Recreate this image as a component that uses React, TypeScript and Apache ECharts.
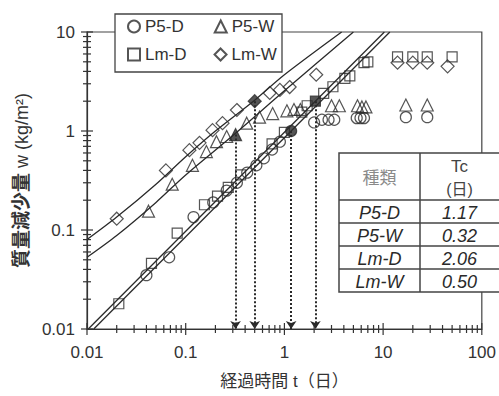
import React, { useEffect, useRef } from "react";
import * as echarts from "echarts";

// ---- axis ticks ----
const X_TICKS = [0.01, 0.1, 1, 10, 100];
const Y_TICKS = [0.01, 0.1, 1, 10];

// ---- series names ----
const SERIES_NAMES = ["P5-D", "P5-W", "Lm-D", "Lm-W"];

// ---- measured points (t: days, w: kg/m2) ----
const P5_D_T = [0.04, 0.068, 0.12, 0.19, 0.26, 0.33, 0.42, 0.52, 0.62, 0.75, 0.9, 2.0, 2.4, 2.8, 3.2, 5.4, 5.9, 6.4, 17, 28];
const P5_D_W = [0.035, 0.053, 0.135, 0.19, 0.25, 0.3, 0.38, 0.45, 0.53, 0.65, 0.78, 1.22, 1.3, 1.3, 1.3, 1.35, 1.35, 1.35, 1.38, 1.38];

const P5_W_T = [0.042, 0.073, 0.117, 0.162, 0.205, 0.26, 0.415, 0.56, 0.76, 1.06, 1.25, 1.45, 3.0, 3.6, 5.5, 6.1, 6.7, 17, 28];
const P5_W_W = [0.155, 0.29, 0.45, 0.62, 0.78, 0.88, 1.2, 1.38, 1.5, 1.6, 1.65, 1.65, 1.8, 1.8, 1.8, 1.75, 1.75, 1.83, 1.83];

const LM_D_T = [0.021, 0.045, 0.082, 0.155, 0.21, 0.27, 0.36, 0.75, 1.0, 1.5, 1.7, 2.5, 3.1, 4.1, 4.6, 6.4, 7.0, 14, 20, 28, 50];
const LM_D_W = [0.018, 0.046, 0.093, 0.18, 0.22, 0.27, 0.36, 0.74, 0.97, 1.55, 1.8, 2.4, 2.8, 3.4, 3.6, 4.9, 5.0, 5.6, 5.6, 5.6, 5.6];

const LM_W_T = [0.02, 0.063, 0.109, 0.138, 0.187, 0.236, 0.33, 0.71, 0.9, 1.13, 2.1, 14, 20, 28, 45];
const LM_W_W = [0.13, 0.4, 0.64, 0.76, 1.02, 1.2, 1.63, 2.42, 2.6, 2.78, 3.7, 4.9, 4.9, 4.9, 4.5];

// ---- critical points (filled markers) and Tc table ----
const TC_VALUES = [1.17, 0.32, 2.06, 0.5];
const TC_LABELS = ["1.17", "0.32", "2.06", "0.50"];
const CRIT_W = [1.0, 0.92, 2.0, 2.0];

// ---- fitted curves ----
const FIT_P5D_T = [0.0117, 11.7];
const FIT_P5D_W = [0.01, 10];
const FIT_LMD_T = [0.0103, 10.3];
const FIT_LMD_W = [0.01, 10];
const FIT_P5W_T = [0.01, 0.02, 0.05, 0.1, 0.32, 1, 5];
const FIT_P5W_W = [0.053, 0.088, 0.19, 0.36, 0.95, 2.55, 10];
const FIT_LMW_T = [0.01, 0.02, 0.05, 0.1, 0.2, 0.5, 1, 3.8];
const FIT_LMW_W = [0.08, 0.135, 0.29, 0.55, 1.0, 2.05, 3.7, 10];

const FONT = "'Liberation Sans', Arial, 'Noto Sans CJK JP', sans-serif";
const INK = "#2a2a2a";

const zip = (a: number[], b: number[]) => a.map((v, i) => [v, b[i]]);

function nearestLabel(v: number, ticks: number[]) {
  let best = ticks[0];
  for (const t of ticks) {
    if (Math.abs(Math.log10(t) - Math.log10(v)) < Math.abs(Math.log10(best) - Math.log10(v))) best = t;
  }
  return String(best);
}

function minorValues(ticks: number[]) {
  const out: number[][] = [];
  for (let i = 0; i < ticks.length; i++) {
    out.push([ticks[i], 1]);
    if (i < ticks.length - 1) {
      for (let m = 2; m <= 9; m++) out.push([ticks[i] * m, 0]);
    }
  }
  return out;
}

export default function App() {
  const ref = useRef<HTMLDivElement>(null);

  useEffect(() => {
    if (!ref.current) return;
    const chart = echarts.init(ref.current, undefined, { renderer: "svg" });

    const scatterBase = (name: string, symbol: string, size: number, t: number[], w: number[], idx: number) => ({
      name,
      type: "scatter",
      symbol,
      symbolSize: size,
      z: 4,
      itemStyle: { color: "rgba(255,255,255,0)", borderColor: INK, borderWidth: 1.2 },
      data: [
        ...zip(t, w),
        { value: [TC_VALUES[idx], CRIT_W[idx]], itemStyle: { color: INK, borderColor: INK } },
      ],
      markLine: {
        silent: true,
        symbol: ["none", "arrow"],
        symbolSize: 8,
        label: { show: false },
        lineStyle: { type: "dotted", color: INK, width: 2 },
        data: [[{ coord: [TC_VALUES[idx], CRIT_W[idx]] }, { coord: [TC_VALUES[idx], 0.01] }]],
      },
    });

    const fitLine = (t: number[], w: number[]) => ({
      type: "line",
      data: zip(t, w),
      showSymbol: false,
      symbol: "none",
      smooth: 0.3,
      silent: true,
      z: 3,
      lineStyle: { color: INK, width: 1.3 },
    });

    const xTicks = minorValues(X_TICKS).map(([v, major]) => [v, 0.01, major]);
    const yTicks = minorValues(Y_TICKS).map(([v, major]) => [0.01, v, major]);

    const tableLeft = 339, tableTop = 153, tableRight = 499, colX = 420;
    const headerBottom = 200, rowH = 23;
    const tableChildren: any[] = [
      { type: "rect", shape: { x: tableLeft, y: tableTop, width: tableRight - tableLeft + 2, height: headerBottom - tableTop + rowH * 4 }, style: { fill: "#fff", stroke: "#444", lineWidth: 1.5 } },
      { type: "line", shape: { x1: colX, y1: tableTop, x2: colX, y2: headerBottom + rowH * 4 }, style: { stroke: "#444", lineWidth: 1.5 } },
      { type: "text", style: { text: "種類", x: (tableLeft + colX) / 2, y: 178, align: "center", verticalAlign: "middle", fontSize: 17, fill: "#8a8a8a", fontFamily: FONT } },
      { type: "text", style: { text: "Tc", x: (colX + tableRight) / 2, y: 166, align: "center", verticalAlign: "middle", fontSize: 17, fill: "#444", fontFamily: FONT } },
      { type: "text", style: { text: "(日)", x: (colX + tableRight) / 2, y: 189, align: "center", verticalAlign: "middle", fontSize: 16, fill: "#444", fontFamily: FONT } },
    ];
    for (let i = 0; i < 4; i++) {
      const y0 = headerBottom + rowH * i;
      tableChildren.push({ type: "line", shape: { x1: tableLeft, y1: y0, x2: tableRight, y2: y0 }, style: { stroke: "#444", lineWidth: 1.5 } });
      tableChildren.push({ type: "text", style: { text: SERIES_NAMES[i], x: (tableLeft + colX) / 2, y: y0 + rowH / 2 + 1, align: "center", verticalAlign: "middle", fontSize: 18, fontStyle: "italic", fill: INK, fontFamily: FONT } });
      tableChildren.push({ type: "text", style: { text: TC_LABELS[i], x: (colX + tableRight) / 2, y: y0 + rowH / 2 + 1, align: "center", verticalAlign: "middle", fontSize: 18, fontStyle: "italic", fill: INK, fontFamily: FONT } });
    }

    const legendCommon = {
      left: 127,
      itemWidth: 12,
      itemHeight: 12,
      padding: 0,
      selectedMode: false,
      z: 20,
      textStyle: { fontSize: 17, color: "#333", fontFamily: FONT, padding: [0, 0, 0, 0] },
    };

    chart.setOption({
      animation: false,
      backgroundColor: "#fff",
      grid: { left: 87, right: 17, top: 32, bottom: 67, show: true, borderColor: "#444", borderWidth: 1.2, backgroundColor: "transparent" },
      legend: [
        { ...legendCommon, top: 18, itemGap: 30, data: ["P5-D", "P5-W"] },
        { ...legendCommon, top: 46, itemGap: 27, data: ["Lm-D", "Lm-W"] },
      ],
      xAxis: {
        type: "log",
        logBase: 10,
        min: 0.01,
        max: 100,
        name: "経過時間 t（日）",
        nameLocation: "middle",
        nameGap: 44,
        nameTextStyle: { fontSize: 17, color: "#333", fontFamily: FONT },
        axisLine: { lineStyle: { color: "#333", width: 1.2 } },
        axisTick: { show: false },
        splitLine: { show: false },
        axisLabel: { fontSize: 17, color: "#333", fontFamily: FONT, margin: 15, formatter: (v: number) => nearestLabel(v, X_TICKS) },
      },
      yAxis: {
        type: "log",
        logBase: 10,
        min: 0.01,
        max: 10,
        name: "{b|質量減少量} w (kg/m²)",
        nameLocation: "middle",
        nameRotate: 90,
        nameGap: 56,
        nameTextStyle: { fontSize: 18, color: "#333", fontFamily: FONT, rich: { b: { fontSize: 19, fontWeight: "bold", color: "#333", fontFamily: FONT } } },
        axisLine: { lineStyle: { color: "#333", width: 1.2 } },
        axisTick: { show: false },
        splitLine: { show: false },
        axisLabel: { fontSize: 17, color: "#333", fontFamily: FONT, margin: 12, formatter: (v: number) => nearestLabel(v, Y_TICKS) },
      },
      graphic: [
        { type: "rect", z: 10, shape: { x: 115, y: 14, width: 167, height: 58 }, style: { fill: "#fff", stroke: "#444", lineWidth: 1.3 } },
        { type: "group", z: 10, children: tableChildren },
      ],
      series: [
        fitLine(FIT_P5D_T, FIT_P5D_W),
        fitLine(FIT_LMD_T, FIT_LMD_W),
        fitLine(FIT_P5W_T, FIT_P5W_W),
        fitLine(FIT_LMW_T, FIT_LMW_W),
        scatterBase("P5-D", "circle", 11, P5_D_T, P5_D_W, 0),
        scatterBase("P5-W", "triangle", 12, P5_W_T, P5_W_W, 1),
        scatterBase("Lm-D", "rect", 10, LM_D_T, LM_D_W, 2),
        scatterBase("Lm-W", "diamond", 13, LM_W_T, LM_W_W, 3),
        {
          type: "custom",
          silent: true,
          clip: false,
          z: 5,
          data: xTicks,
          renderItem: (_p: any, api: any) => {
            const pt = api.coord([api.value(0), api.value(1)]);
            const len = api.value(2) ? 6 : 4;
            return { type: "line", shape: { x1: pt[0], y1: pt[1] - len, x2: pt[0], y2: pt[1] + len }, style: { stroke: "#333", lineWidth: 1.2 } };
          },
        },
        {
          type: "custom",
          silent: true,
          clip: false,
          z: 5,
          data: yTicks,
          renderItem: (_p: any, api: any) => {
            const pt = api.coord([api.value(0), api.value(1)]);
            const len = api.value(2) ? 6 : 4;
            return { type: "line", shape: { x1: pt[0] - len, y1: pt[1], x2: pt[0] + len, y2: pt[1] }, style: { stroke: "#333", lineWidth: 1.2 } };
          },
        },
      ],
    });

    return () => chart.dispose();
  }, []);

  return <div ref={ref} style={{ position: "fixed", left: 0, top: 0, width: 499, height: 396, background: "#fff" }} />;
}
